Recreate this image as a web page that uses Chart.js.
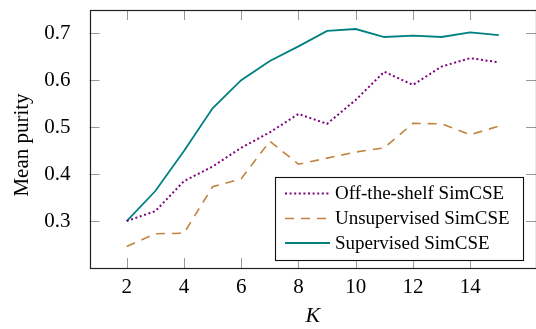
<!DOCTYPE html>
<html><head><meta charset="utf-8">
<script src="https://cdn.jsdelivr.net/npm/chart.js@4.4.0/dist/chart.umd.min.js"></script>
<style>html,body{margin:0;padding:0;background:#fff}#wrap{width:536px;height:329px}</style>
</head><body><div id="wrap"><canvas id="c" width="536" height="329"></canvas></div>
<script>
const kValues = [2,3,4,5,6,7,8,9,10,11,12,13,14,15];
const offTheShelf = [0.300,0.321,0.385,0.416,0.456,0.489,0.528,0.507,0.558,0.618,0.590,0.629,0.647,0.638];
const unsupervised = [0.246,0.273,0.274,0.373,0.390,0.470,0.421,0.434,0.447,0.456,0.508,0.507,0.484,0.502];
const supervised = [0.300,0.364,0.449,0.540,0.600,0.641,0.672,0.705,0.709,0.692,0.695,0.692,0.702,0.696];
const xTicks = [2,4,6,8,10,12,14];
const yTicks = [0.3,0.4,0.5,0.6,0.7];
const seriesNames = ['Off-the-shelf SimCSE','Unsupervised SimCSE','Supervised SimCSE'];
const yTitle = 'Mean purity';

const SERIF = '"Liberation Serif", "DejaVu Serif", serif';
const styles = [
  {color:'#800080', dash:[2,2.6], width:2},
  {color:'#c0843f', dash:[9,7], width:1.6},
  {color:'#008080', dash:[], width:1.8}
];
const mk = (arr) => kValues.map((k,i)=>({x:k,y:arr[i]}));

const framePlugin = {
  id:'frame',
  afterDraw(chart){
    const {ctx, chartArea:a, scales} = chart;
    ctx.save();
    ctx.strokeStyle = '#999'; ctx.lineWidth = 1;
    const T = 10;
    xTicks.forEach(v=>{
      const px = Math.round(scales.x.getPixelForValue(v))+0.5;
      ctx.beginPath(); ctx.moveTo(px,a.bottom); ctx.lineTo(px,a.bottom-T);
      ctx.moveTo(px,a.top); ctx.lineTo(px,a.top+T); ctx.stroke();
    });
    yTicks.forEach(v=>{
      const py = Math.round(scales.y.getPixelForValue(v))+0.5;
      ctx.beginPath(); ctx.moveTo(a.left,py); ctx.lineTo(a.left+T,py);
      ctx.moveTo(a.right,py); ctx.lineTo(a.right-T,py); ctx.stroke();
    });
    ctx.strokeStyle = '#222'; ctx.lineWidth = 1.2;
    ctx.strokeRect(Math.round(a.left)+0.5, Math.round(a.top)+0.5, a.right-a.left-0.5, Math.round(a.bottom-a.top));
    // y title
    ctx.save();
    ctx.translate(22, 145); ctx.rotate(-Math.PI/2);
    ctx.font = '21px '+SERIF; ctx.fillStyle='#000'; ctx.textAlign='center'; ctx.textBaseline='middle';
    ctx.fillText(yTitle, 0, 0);
    ctx.restore();
    // legend
    const L = {x:275.5, y:177.5, w:248, h:83};
    ctx.fillStyle='#fff'; ctx.fillRect(L.x,L.y,L.w,L.h);
    ctx.strokeStyle='#111'; ctx.lineWidth=1.1; ctx.strokeRect(L.x,L.y,L.w,L.h);
    const rows=[193.5,218.5,243];
    ctx.font = '19px '+SERIF; ctx.textBaseline='middle'; ctx.textAlign='left';
    seriesNames.forEach((n,i)=>{
      const s=styles[i];
      ctx.strokeStyle=s.color; ctx.lineWidth=s.width; ctx.setLineDash(s.dash);
      ctx.beginPath(); ctx.moveTo(285,rows[i]); ctx.lineTo(330,rows[i]); ctx.stroke();
      ctx.setLineDash([]);
      ctx.fillStyle='#000'; ctx.fillText(n,335,rows[i]+1);
    });
    ctx.restore();
  }
};

new Chart(document.getElementById('c'), {
  type:'line',
  data:{datasets:[offTheShelf,unsupervised,supervised].map((d,i)=>({
    label:seriesNames[i], data:mk(d), borderColor:styles[i].color, borderWidth:styles[i].width,
    borderDash:styles[i].dash, pointRadius:0, tension:0, fill:false, borderCapStyle:'butt'
  }))},
  options:{
    responsive:false, animation:false, devicePixelRatio:1,
    layout:{padding:{top:10,right:0,left:0,bottom:0}},
    plugins:{legend:{display:false}, tooltip:{enabled:false}},
    scales:{
      x:{type:'linear', min:0.7, max:16.3,
        afterBuildTicks:(s)=>{s.ticks = xTicks.map(v=>({value:v}));},
        afterFit:(s)=>{s.height=61; s.paddingLeft=0; s.paddingRight=0;},
        grid:{display:false}, border:{display:false},
        ticks:{font:{family:SERIF,size:21}, color:'#000', padding:-1, maxRotation:0},
        title:{display:true, text:'K', font:{family:SERIF,size:22,style:'italic'}, color:'#000', padding:{top:4,bottom:0}}
      },
      y:{type:'linear', min:0.2, max:0.7495,
        afterBuildTicks:(s)=>{s.ticks = yTicks.map(v=>({value:v}));},
        afterFit:(s)=>{s.width=89.5; s.paddingTop=0; s.paddingBottom=0;},
        grid:{display:false}, border:{display:false},
        ticks:{font:{family:SERIF,size:21}, color:'#000', padding:11, callback:v=>v.toFixed(1)},
        title:{display:false}
      }
    }
  },
  plugins:[framePlugin]
});
</script></body></html>
